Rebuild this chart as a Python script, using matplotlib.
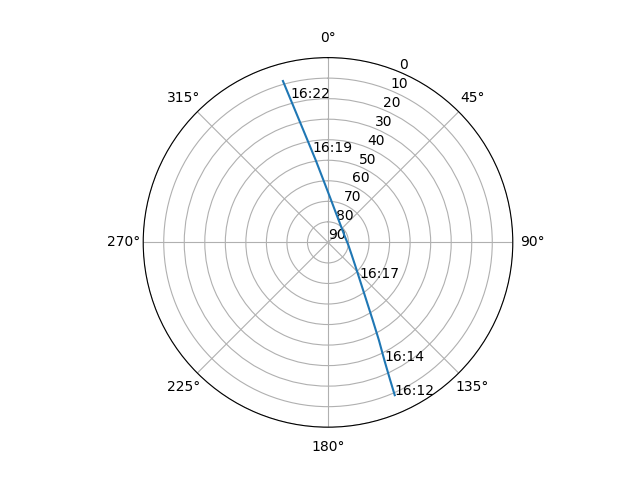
import numpy as np
import matplotlib
matplotlib.use("Agg")
import matplotlib.pyplot as plt

# satellite pass: azimuth (deg) and elevation (deg)
azimuth = [156.4, 155.7, 154.5, 152.5, 150.1, 146.4, 138.8, 130.0, 118.1, 97.6,
           66.0, 36.1, 14.1, 3.0, -4.2, -8.5, -9.8, -12.4, -14.0, -14.75, -15.6]
elevation = [8.8, 16.4, 25.9, 36.3, 46.3, 56.3, 66.9, 72.8, 76.9, 80.0,
             81.3, 79.6, 74.8, 68.4, 59.6, 49.5, 45.4, 34.0, 23.6, 17.3, 8.4]

# time labels and the point index where each one sits
time_labels = ["16:12", "16:14", "16:17", "16:19", "16:22"]
label_idx = [0, 2, 6, 16, 19]

theta = np.radians(azimuth)

fig = plt.figure(figsize=(6.4, 4.8), dpi=100)
ax = fig.add_subplot(111, projection="polar")
ax.set_theta_zero_location("N")
ax.set_theta_direction(-1)

ax.plot(theta, elevation)
for lab, i in zip(time_labels, label_idx):
    ax.text(theta[i], elevation[i], lab)

ax.set_rticks(range(0, 91, 10))
ax.set_ylim(90, 0)

fig.savefig("out.png")
